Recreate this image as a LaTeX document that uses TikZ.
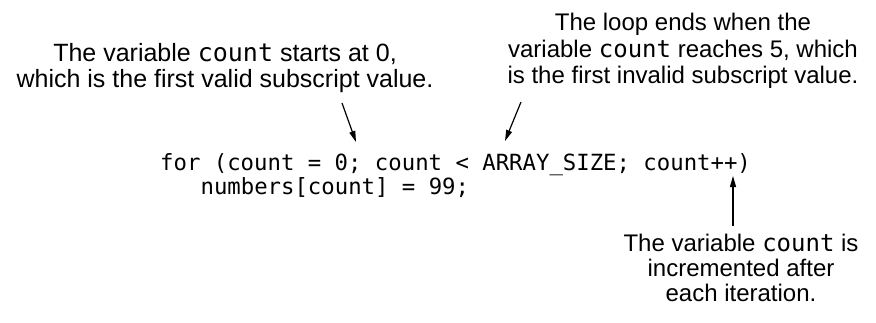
\documentclass[tikz,border=0pt]{standalone}
\usepackage{fontspec}
\setmainfont{Liberation Sans}
\setmonofont{DejaVu Sans Mono}
\usetikzlibrary{arrows.meta,positioning}
\tikzset{note/.style={align=center,inner sep=0pt,anchor=north,font=\fontsize{24}{26.5}\selectfont},code/.style={inner sep=0pt,anchor=base west,font=\ttfamily\fontsize{22.3}{24}\selectfont},pointer/.style={-{Triangle[length=11pt,width=6pt]},line width=1.2pt}}

\begin{document}
\begin{tikzpicture}[x=1pt,y=-1pt]
\useasboundingbox (0,0) rectangle (876,322);
\node[code] (forline) at (160,170) {for (count = 0; count < ARRAY\_SIZE; count++)};
\node[code,below right=24pt and 40.4pt of forline.base west,anchor=base west] (body) {numbers[count] = 99;};
\node[note,font=\fontsize{25}{26.5}\selectfont] (startnote) at (225,43) {The variable \texttt{count} starts at 0,\\which is the first valid subscript value.};
\node[note] (endnote) at (683,13) {The loop ends when the\\variable \texttt{count} reaches 5, which\\is the first invalid subscript value.};
\node[note,font=\fontsize{24}{25}\selectfont] (stepnote) at (741,234) {The variable \texttt{count} is\\incremented after\\each iteration.};
\coordinate (startfoot) at (342,103);
\coordinate (starttip) at (356,142);
\coordinate (endfoot) at (521,102);
\coordinate (endtip) at (505,141);
\coordinate (stepfoot) at (733,226);
\coordinate (steptip) at (733,176);
\draw[pointer] (startfoot)--(starttip);
\draw[pointer] (endfoot)--(endtip);
\draw[pointer] (stepfoot)--(steptip);
\end{tikzpicture}
\end{document}
